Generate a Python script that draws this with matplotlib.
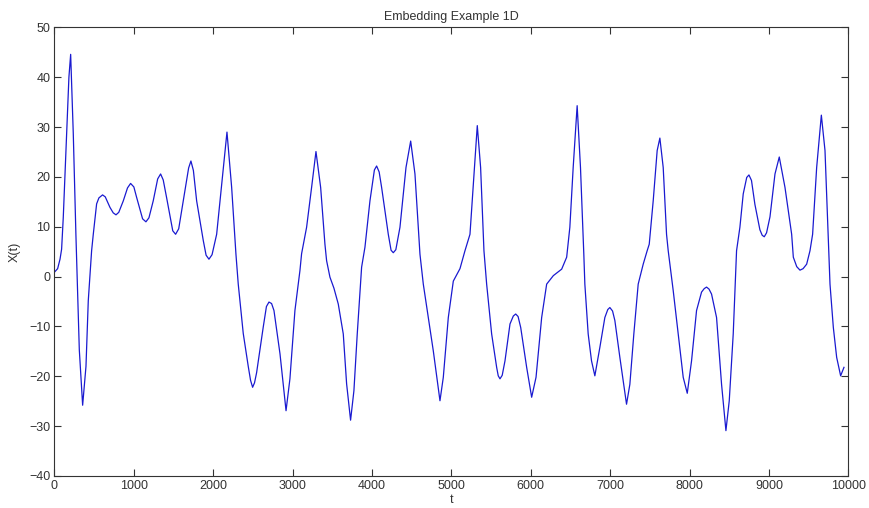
import matplotlib
matplotlib.use("Agg")
import matplotlib.pyplot as plt

# values
t = [0, 40, 70, 90, 111, 153, 182, 204, 237, 270, 288, 313, 355, 397, 426, 468, 489, 531,
     560, 606, 640, 699, 740, 775, 810, 867, 920, 959, 1000, 1035, 1110, 1152, 1190, 1244,
     1300, 1337, 1370, 1412, 1490, 1526, 1565, 1622, 1690, 1719, 1750, 1791, 1875, 1910,
     1946, 1985, 2043, 2119, 2173, 2232, 2286, 2315, 2378, 2441, 2470, 2496, 2520, 2546,
     2630, 2670, 2702, 2735, 2765, 2841, 2917, 2966, 3029, 3092, 3113, 3176, 3239, 3294,
     3353, 3407, 3428, 3470, 3520, 3575, 3638, 3680, 3730, 3772, 3814, 3869, 3911, 3974,
     4030, 4058, 4090, 4121, 4205, 4240, 4268, 4300, 4352, 4428, 4487, 4541, 4604, 4646,
     4709, 4772, 4856, 4898, 4961, 5024, 5108, 5171, 5234, 5276, 5326, 5368, 5410, 5444,
     5507, 5570, 5590, 5612, 5640, 5675, 5738, 5780, 5810, 5840, 5873, 5948, 6011, 6066,
     6137, 6200, 6284, 6389, 6452, 6492, 6534, 6584, 6626, 6668, 6681, 6723, 6765, 6807,
     6870, 6933, 6970, 6996, 7030, 7059, 7122, 7206, 7248, 7298, 7353, 7416, 7466, 7492,
     7542, 7592, 7626, 7668, 7710, 7731, 7794, 7857, 7920, 7971, 8025, 8088, 8151, 8185,
     8214, 8245, 8277, 8340, 8403, 8458, 8500, 8550, 8592, 8634, 8676, 8720, 8748, 8780,
     8823, 8886, 8915, 8941, 8970, 9013, 9076, 9130, 9202, 9286, 9307, 9350, 9391, 9430,
     9475, 9517, 9550, 9601, 9660, 9706, 9748, 9769, 9811, 9853, 9903, 9945]
x = [0.9, 1.6, 3.5, 5.5, 11.9, 28.7, 40.0, 44.6, 28.7, 8.5, -1.5, -14.7, -25.8, -18.0,
     -4.8, 5.2, 8.5, 14.6,
     15.8, 16.4, 16.0, 13.9, 12.8, 12.4, 12.9, 15.2, 17.8, 18.7, 18.0, 15.9, 11.6, 11.0,
     11.8, 15.2,
     19.6, 20.6, 19.4, 15.9, 9.2, 8.5, 9.6, 15.2, 21.8, 23.2, 21.3, 15.2, 7.2, 4.3,
     3.5, 4.4, 8.5, 20.6, 29.0, 17.9, 4.5, -1.5, -11.4, -18.0, -20.8, -22.2, -21.3, -19.3,
     -10.1, -6.0, -5.1, -5.4, -6.8, -15.5, -26.9, -20.5, -6.8, 1.2, 4.6, 9.9, 17.9, 25.1,
     17.9, 6.5, 3.2, -0.1, -2.3, -5.5, -11.5, -21.5, -28.8, -22.9, -11.5, 1.9, 5.9, 15.2,
     21.4, 22.2, 21.0, 17.9, 8.5, 5.3, 4.8, 5.4, 9.9, 21.9, 27.2, 20.6, 4.5, -1.5,
     -8.2, -14.9, -24.9, -20.2, -8.2, -0.9, 1.6, 5.2, 8.5, 18.5, 30.3, 21.9, 5.2, -1.5,
     -11.5, -18.2, -19.9, -20.5, -19.8, -16.9, -9.5, -7.9, -7.5, -8.0, -10.2, -18.2, -24.2,
     -20.2,
     -8.2, -1.5, 0.2, 1.5, 3.9, 9.9, 21.9, 34.3, 21.9, 4.5, -1.5, -11.5, -16.9, -19.9,
     -14.2, -8.2, -6.6, -6.2, -6.9, -8.8, -16.2, -25.6, -21.6, -11.5, -1.5, 2.5, 5.2, 6.5,
     15.2, 25.3, 27.8, 21.9, 8.5, 5.2, -2.8, -11.5, -20.2, -23.4, -16.9, -6.8, -3.1, -2.4,
     -2.1, -2.5, -3.5, -8.2, -21.6, -30.9, -24.9, -11.5, 5.2, 9.9, 16.6, 19.9, 20.4, 19.3,
     14.5, 9.4, 8.3, 8.0, 8.8, 12.0, 20.6, 24.0, 17.9, 8.5, 3.9, 2.0, 1.3, 1.6,
     2.5, 5.2, 8.5, 21.9, 32.4, 25.3, 7.2, -1.5, -10.2, -16.2, -19.9, -18.2]

xticks = [0, 1000, 2000, 3000, 4000, 5000, 6000, 7000, 8000, 9000, 10000]
yticks = [-40, -30, -20, -10, 0, 10, 20, 30, 40, 50]

plt.rcParams['font.family'] = ['Liberation Sans', 'DejaVu Sans']

fig = plt.figure(figsize=(8.7, 5.08), dpi=100)
ax = fig.add_axes([0.0626, 0.063, 0.9125, 0.883])
ax.plot(t, x, color='#1a1ad0', linewidth=0.9)
ax.set_xlim(0, 10000)
ax.set_ylim(-40, 50)
ax.set_xticks(xticks)
ax.set_yticks(yticks)
ax.tick_params(direction='in', top=True, right=True, length=5, width=0.8,
               labelsize=9, colors='#333333', pad=3)
for s in ax.spines.values():
    s.set_color('#333333')
    s.set_linewidth(0.8)
ax.set_title('Embedding Example 1D', fontsize=9, color='#333333', pad=5)
ax.set_xlabel('t', fontsize=9, color='#333333', labelpad=1)
ax.set_ylabel('X(t)', fontsize=9, color='#333333', labelpad=6)
fig.savefig('out.png', dpi=100)
